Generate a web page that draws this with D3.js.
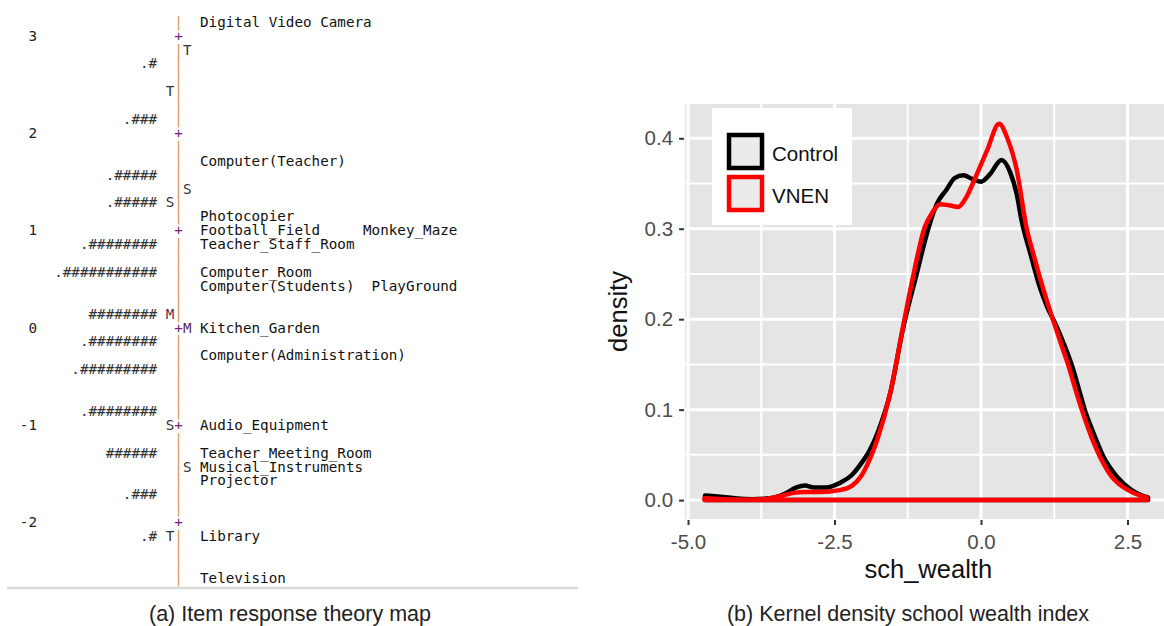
<!DOCTYPE html>
<html><head><meta charset="utf-8">
<script src="https://cdn.jsdelivr.net/npm/d3@7"></script>
<style>
body{margin:0;background:#fff}
svg{display:block}
.mono text{white-space:pre}
</style>
</head><body>
<svg id="chart" width="1164" height="626"></svg>
<script>
// ================= Panel (a): Item response theory (Wright) map =================
const measureTicks = [3, 2, 1, 0, -1, -2];
// rows of the text map (row index from the top), persons on the left
const personBars = [[3,".#"],[7,".###"],[11,".#####"],[13,".#####"],[16,".########"],[18,".###########"],
  [21,"########"],[23,".########"],[25,".#########"],[28,".########"],[31,"######"],[34,".###"],[37,".#"]];
const personMarks = [[5,"T"],[13,"S"],[21,"M"],[29,"S"],[37,"T"]];
const itemMarks = [[2,"T"],[12,"S"],[22,"M"],[32,"S"]];
const itemLabels = [[0,"Digital Video Camera"],[10,"Computer(Teacher)"],[14,"Photocopier"],
  [15,"Football_Field     Monkey_Maze"],[16,"Teacher_Staff_Room"],[18,"Computer_Room"],
  [19,"Computer(Students)  PlayGround"],[22,"Kitchen_Garden"],[24,"Computer(Administration)"],
  [29,"Audio_Equipment"],[31,"Teacher_Meeting_Room"],[32,"Musical_Instruments"],[33,"Projector"],
  [37,"Library"],[40,"Television"]];
const mapRowCount = 41;
const rowsPerLogit = 7;

// ================= Panel (b): kernel density of school wealth =================
const xTicks = [-5.0, -2.5, 0.0, 2.5];
const yTicks = [0.0, 0.1, 0.2, 0.3, 0.4];
const xMinor = [-3.75, -1.25, 1.25];
const yMinor = [0.05, 0.15, 0.25, 0.35];
const seriesNames = ["Control", "VNEN"];
const controlX = [-4.71,-4.5,-4.2,-3.9,-3.6,-3.35,-3.15,-3.0,-2.85,-2.65,-2.41,-2.2,-2.05,-1.9,-1.75,-1.55,-1.33,-1.11,-0.9,-0.75,-0.59,-0.45,-0.3,-0.15,0.0,0.15,0.35,0.5,0.61,0.69,0.84,1.0,1.12,1.29,1.43,1.55,1.66,1.77,1.92,2.09,2.32,2.57,2.75,2.85];
const controlD = [0.005,0.004,0.002,0.001,0.002,0.007,0.014,0.016,0.014,0.014,0.019,0.028,0.040,0.055,0.077,0.118,0.190,0.247,0.300,0.328,0.343,0.356,0.359,0.355,0.352,0.360,0.376,0.362,0.338,0.310,0.273,0.236,0.215,0.192,0.170,0.149,0.125,0.100,0.074,0.048,0.026,0.011,0.005,0.003];
const vnenX = [-4.72,-4.4,-4.0,-3.7,-3.45,-3.2,-3.0,-2.75,-2.41,-2.2,-2.05,-1.9,-1.77,-1.55,-1.33,-1.16,-0.96,-0.83,-0.70,-0.55,-0.39,-0.25,-0.10,0.10,0.31,0.45,0.61,0.78,0.89,1.05,1.23,1.38,1.49,1.60,1.72,1.86,2.03,2.23,2.51,2.72,2.83];
const vnenD = [0.002,0.001,0.0005,0.001,0.004,0.008,0.009,0.009,0.011,0.016,0.026,0.045,0.067,0.118,0.192,0.247,0.302,0.318,0.327,0.326,0.324,0.335,0.356,0.386,0.416,0.400,0.365,0.300,0.273,0.236,0.199,0.170,0.149,0.125,0.100,0.074,0.048,0.026,0.011,0.005,0.003];

const svg = d3.select("#chart");

// ---------- Panel (a) drawing ----------
const cw = 8.58;                 // monospace advance
const axisLeft = 174.3;          // left edge of the ruler column
const rowY = d3.scaleLinear().domain([0, mapRowCount - 1]).range([26.7, 582.7]);
const measureRow = d3.scaleLinear().domain([3, -2]).range([1, 1 + 5 * rowsPerLogit]);
const col = k => axisLeft + k * cw;

const ga = svg.append("g").attr("class", "mono")
  .attr("font-family", "'DejaVu Sans Mono', 'Liberation Mono', monospace")
  .attr("font-size", 14.25);

const tickRows = new Set(measureTicks.map(m => Math.round(measureRow(m))));
const rows = d3.range(mapRowCount);
ga.selectAll("text.rule").data(rows).join("text").attr("class", "rule")
  .attr("x", col(0)).attr("y", r => rowY(r))
  .attr("fill", r => tickRows.has(r) ? "#7a1f7a" : "#dc9a4c")
  .text(r => tickRows.has(r) ? "+" : "|");

ga.selectAll("text.num").data(measureTicks).join("text").attr("class", "num")
  .attr("x", col(-16)).attr("y", m => rowY(measureRow(m)))
  .attr("text-anchor", "end").attr("fill", "#222").text(m => String(m));

ga.selectAll("text.pers").data(personBars).join("text").attr("class", "pers")
  .attr("x", col(-2)).attr("y", d => rowY(d[0]))
  .attr("text-anchor", "end").attr("fill", "#333").text(d => d[1]);

ga.selectAll("text.pm").data(personMarks).join("text").attr("class", "pm")
  .attr("x", col(-1)).attr("y", d => rowY(d[0]))
  .attr("fill", d => d[1] === "M" ? "#5a2d5a" : "#333").text(d => d[1]);

ga.selectAll("text.im").data(itemMarks).join("text").attr("class", "im")
  .attr("x", col(1)).attr("y", d => rowY(d[0]))
  .attr("fill", d => d[1] === "M" ? "#5a2d5a" : "#333").text(d => d[1]);

ga.selectAll("text.item").data(itemLabels).join("text").attr("class", "item")
  .attr("x", col(3)).attr("y", d => rowY(d[0]))
  .attr("xml:space", "preserve")
  .attr("fill", "#111").text(d => d[1]);

svg.append("line").attr("x1", 7).attr("x2", 578).attr("y1", 588).attr("y2", 588)
  .attr("stroke", "#dadada").attr("stroke-width", 2.5);

// ---------- Panel (b) drawing ----------
const x = d3.scaleLinear().domain([-5.05, 3.25]).range([685.1, 1171.45]);
const y = d3.scaleLinear().domain([-0.0209, 0.4379]).range([519, 104]);
const [px0, px1] = x.range();
const [py0, py1] = y.range();

const gb = svg.append("g");
gb.append("rect").attr("x", px0).attr("y", py1).attr("width", px1 - px0).attr("height", py0 - py1)
  .attr("fill", "#e5e5e5");

gb.selectAll("line.vmin").data(xMinor).join("line")
  .attr("x1", d => x(d)).attr("x2", d => x(d)).attr("y1", py1).attr("y2", py0)
  .attr("stroke", "#fff").attr("stroke-width", 2);
gb.selectAll("line.hmin").data(yMinor).join("line")
  .attr("y1", d => y(d)).attr("y2", d => y(d)).attr("x1", px0).attr("x2", px1)
  .attr("stroke", "#fff").attr("stroke-width", 2);
gb.selectAll("line.vmaj").data(xTicks).join("line")
  .attr("x1", d => x(d)).attr("x2", d => x(d)).attr("y1", py1).attr("y2", py0)
  .attr("stroke", "#fff").attr("stroke-width", 3);
gb.selectAll("line.hmaj").data(yTicks).join("line")
  .attr("y1", d => y(d)).attr("y2", d => y(d)).attr("x1", px0).attr("x2", px1)
  .attr("stroke", "#fff").attr("stroke-width", 3);

const area = d3.area().x(d => x(d[0])).y0(y(0)).y1(d => y(d[1])).curve(d3.curveMonotoneX);
const series = [
  {name: seriesNames[0], pts: d3.zip(controlX, controlD), color: "#000"},
  {name: seriesNames[1], pts: d3.zip(vnenX, vnenD), color: "#ff0000"}
];
gb.selectAll("path.dens").data(series).join("path").attr("class", "dens")
  .attr("d", s => area(s.pts)).attr("fill", "none")
  .attr("stroke", s => s.color).attr("stroke-width", 4.5)
  .attr("stroke-linejoin", "round");

// axes
const fontSans = "'Liberation Sans', Arial, Helvetica, sans-serif";
const fmt = d => d.toFixed(1);
const yAxis = gb.append("g").attr("transform", `translate(${px0 - 1},0)`)
  .call(d3.axisLeft(y).tickValues(yTicks).tickFormat(fmt).tickSize(5).tickPadding(6));
const xAxis = gb.append("g").attr("transform", `translate(0,${py0 + 1})`)
  .call(d3.axisBottom(x).tickValues(xTicks).tickFormat(fmt).tickSize(5).tickPadding(9));
[yAxis, xAxis].forEach(a => {
  a.select(".domain").remove();
  a.selectAll(".tick line").attr("stroke", "#333").attr("stroke-width", 2);
  a.selectAll(".tick text").attr("fill", "#4d4d4d").attr("font-size", 20.5).attr("font-family", fontSans);
});

gb.append("text").attr("x", (px0 + px1) / 2).attr("y", 578).attr("text-anchor", "middle")
  .attr("font-family", fontSans).attr("font-size", 25.5).attr("fill", "#111").text("sch_wealth");
gb.append("text").attr("transform", `translate(627,${(py0 + py1) / 2}) rotate(-90)`)
  .attr("text-anchor", "middle").attr("font-family", fontSans).attr("font-size", 25.5)
  .attr("fill", "#111").text("density");

// legend
const lg = gb.append("g");
lg.append("rect").attr("x", 712).attr("y", 108).attr("width", 140).attr("height", 117).attr("fill", "#fff");
const lgItems = lg.selectAll("g.key").data(series).join("g").attr("class", "key")
  .attr("transform", (d, i) => `translate(729,${135 + i * 42})`);
lgItems.append("rect").attr("width", 33).attr("height", 33).attr("fill", "#ebebeb")
  .attr("stroke", d => d.color).attr("stroke-width", 4.5);
lgItems.append("text").attr("x", 43).attr("y", 25.5).attr("font-family", fontSans)
  .attr("font-size", 20.5).attr("fill", "#111").text(d => d.name);

// captions
svg.append("text").attr("x", 290).attr("y", 621).attr("text-anchor", "middle")
  .attr("font-family", fontSans).attr("font-size", 21.5).attr("fill", "#222")
  .text("(a) Item response theory map");
svg.append("text").attr("x", 908).attr("y", 621).attr("text-anchor", "middle")
  .attr("font-family", fontSans).attr("font-size", 21.5).attr("fill", "#222")
  .text("(b) Kernel density school wealth index");
</script>
</body></html>
